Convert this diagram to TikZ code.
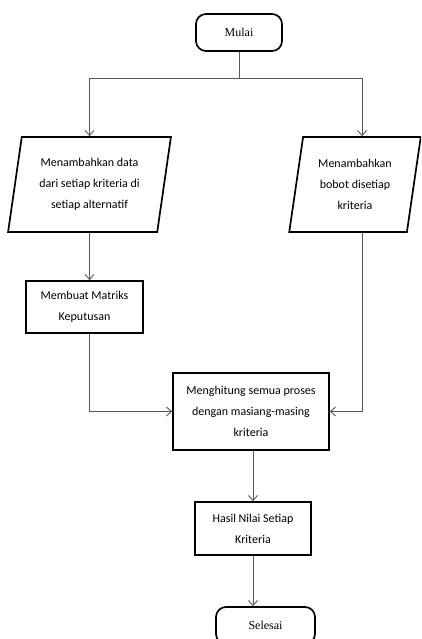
\documentclass[tikz,border=0pt]{standalone}
\usepackage{fontspec}
\setmainfont{Carlito}
\newfontfamily\termfont{Liberation Serif}
\usetikzlibrary{shapes.geometric,arrows.meta}

\begin{document}
\begin{tikzpicture}[x=1pt,y=-1pt,>={Straight Barb[length=5pt,width=9pt]},
                font=\fontsize{12}{21}\selectfont,
                term/.style={rectangle,rounded corners=10pt,draw,line width=1.7pt,
                  inner sep=0pt,font=\termfont\fontsize{12}{14}\selectfont},
                io/.style={trapezium,trapezium stretches=true,trapezium left angle=79,
                  trapezium right angle=101,draw,line width=1.7pt,inner sep=0pt,align=center},
                proc/.style={rectangle,draw,line width=1.7pt,inner sep=0pt,align=center},
                link/.style={draw=black!65,line width=0.9pt}]
  \path[use as bounding box,clip] (0,0) rectangle (421,639);

  \node[term,minimum width=86pt,minimum height=37pt] (mulai) at (239,32.5) {Mulai};
  \node[io,minimum width=163pt,minimum height=95pt] (data) at (89.5,184.5)
    {Menambahkan data\\dari setiap kriteria di\\setiap alternatif};
  \node[io,minimum width=132pt,minimum height=95pt] (bobot) at (355,184.5)
    {Menambahkan\\bobot disetiap\\kriteria};
  \node[proc,minimum width=117pt,minimum height=52pt] (matriks) at (84.5,307)
    {Membuat Matriks\\Keputusan};
  \node[proc,minimum width=156pt,minimum height=77pt] (hitung) at (251,411.5)
    {Menghitung semua proses\\dengan masiang-masing\\kriteria};
  \node[proc,minimum width=116pt,minimum height=53pt] (hasil) at (253,528.5)
    {Hasil Nilai Setiap\\Kriteria};
  \node[term,minimum width=99pt,minimum height=37pt] (selesai) at (265.5,625.5) {Selesai};

  \coordinate (cabang) at (mulai.south |- 0,78);

  \path[link]
    (mulai) -- (cabang)
  ;
  \draw[link,->] (cabang) -| (data.north);
  \draw[link,->] (cabang) -| (bobot.top side);
  \draw[link,->] (data.south) -- (data.south |- matriks.north);
  \draw[link,->] (matriks.south -| data.south) |- (hitung.west);
  \draw[link,->] (bobot.top side |- bobot.south) |- (hitung.east);
  \draw[link,->] (hitung.south -| hasil.north) -- (hasil.north);
  \draw[link,->] (hasil.south) -- (hasil.south |- selesai.north);
\end{tikzpicture}
\end{document}
